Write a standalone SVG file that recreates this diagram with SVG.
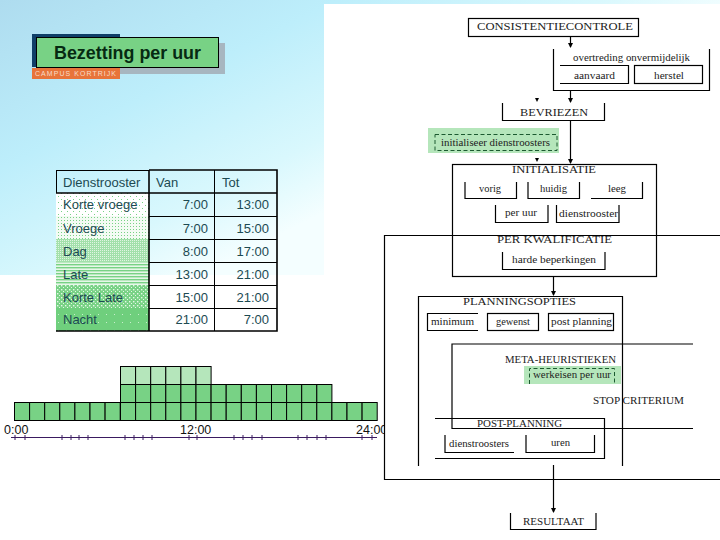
<svg xmlns="http://www.w3.org/2000/svg" width="720" height="540" viewBox="0 0 720 540">
<style>
.t{font-family:"Liberation Sans",Arial,sans-serif;font-size:13px;fill:#1c4a52}
.r{text-anchor:end}
.g{stroke:#000;stroke-width:1;fill:#78d285}
.l{stroke:#000;stroke-width:1;fill:#b5e6bb}
.ln{fill:none;stroke:#000;stroke-width:1.2}
.s{font-family:"Liberation Serif","Times New Roman",serif;font-size:10px;fill:#222}
.h{font-family:"Liberation Serif","Times New Roman",serif;font-size:10.5px;fill:#222}
.tk{stroke:#3a1a60;stroke-width:1}
.ax{font-family:"Liberation Sans",Arial,sans-serif;font-size:12.5px;fill:#111}
.hd{fill:#000}
</style>
<defs>
<linearGradient id="bg" gradientUnits="userSpaceOnUse" x1="0" y1="0" x2="150" y2="300">
<stop offset="0" stop-color="#aedcef"/><stop offset="0.45" stop-color="#bdeefb"/><stop offset="0.8" stop-color="#d9f8fd"/><stop offset="1" stop-color="#f4feff"/>
</linearGradient>
<pattern id="p1" width="6" height="6" patternUnits="userSpaceOnUse"><rect width="6" height="6" fill="#fff"/><rect x="1" y="1" width="1" height="1" fill="#78d285"/><rect x="4" y="4" width="1" height="1" fill="#78d285"/></pattern>
<pattern id="p2" width="3" height="3" patternUnits="userSpaceOnUse"><rect width="3" height="3" fill="#f4fbf4"/><rect x="1" y="1" width="1" height="1" fill="#78d285"/></pattern>
<pattern id="p3" width="2" height="2" patternUnits="userSpaceOnUse"><rect width="2" height="2" fill="#a2e0aa"/><rect x="0" y="0" width="1" height="1" fill="#e0f5e2"/></pattern>
<pattern id="p4" width="3" height="3" patternUnits="userSpaceOnUse"><rect width="3" height="3" fill="#e6f7e8"/><rect width="3" height="1.4" fill="#78d285"/></pattern>
<pattern id="p5" width="4" height="4" patternUnits="userSpaceOnUse"><rect width="4" height="4" fill="#78d285"/><rect x="1" y="1" width="1.4" height="1.4" fill="#e6f7e8"/><rect x="3" y="3" width="1" height="1" fill="#e6f7e8"/></pattern>
<pattern id="p6" width="8" height="8" patternUnits="userSpaceOnUse"><rect width="8" height="8" fill="#6fcf7d"/><rect x="2" y="2" width="1" height="1" fill="#c8eecc"/></pattern>
<marker id="ar" markerWidth="6" markerHeight="6" refX="4" refY="2.5" orient="auto" markerUnits="userSpaceOnUse"><path d="M0 0L5 2.5L0 5z" fill="#000"/></marker>
<clipPath id="cp"><rect x="0" y="420" width="384" height="30"/></clipPath>
</defs>

<rect width="720" height="540" fill="#fff"/>
<rect width="720" height="275" fill="url(#bg)"/>
<rect x="324" y="4" width="396" height="536" fill="#fff"/>

<g id="title">
<rect x="41" y="43" width="184" height="31" fill="#a7b6c0"/>
<g id="logo">
<rect x="32" y="34" width="88" height="33" fill="#0f3f68"/>
<rect x="32" y="68" width="88" height="11" fill="#e8743a"/>
<text x="35" y="76" font-family="Liberation Sans, sans-serif" font-size="7" textLength="81" fill="#f6dcc8">CAMPUS KORTRIJK</text>
</g>
<rect x="36.500" y="37.500" width="182" height="30" fill="#78d285" stroke="#000" stroke-width="1"/>
<text x="54" y="59" textLength="147" lengthAdjust="spacingAndGlyphs" font-family="Liberation Sans, sans-serif" font-size="17.500" font-weight="bold" fill="#062a12">Bezetting per uur</text>
</g>

<g id="table">
<rect x="56" y="193" width="93" height="23" fill="url(#p1)"/>
<rect x="56" y="216" width="93" height="23" fill="url(#p2)"/>
<rect x="56" y="239" width="93" height="23" fill="url(#p3)"/>
<rect x="56" y="262" width="93" height="23" fill="url(#p4)"/>
<rect x="56" y="285" width="93" height="23" fill="url(#p5)"/>
<rect x="56" y="308" width="93" height="23" fill="url(#p6)"/>
<path d="M56 170.500H149M56.500 170V193M214.500 170V331M149 216.500H277M149 239.500H277M149 262.500H277M149 285.500H277M149 308.500H277" fill="none" stroke="#000" stroke-width="1"/>
<path d="M149 170H277V331H56M149 170V331M56 193H277" fill="none" stroke="#000" stroke-width="1.600"/>
<text class="t" x="63" y="187">Dienstrooster</text>
<text class="t" x="156" y="187">Van</text>
<text class="t" x="222" y="187">Tot</text>
<text class="t" x="63" y="209">Korte vroege</text>
<text class="t" x="63" y="233">Vroege</text>
<text class="t" x="63" y="256">Dag</text>
<text class="t" x="63" y="279">Late</text>
<text class="t" x="63" y="302">Korte Late</text>
<text class="t" x="63" y="324">Nacht</text>
<text class="t r" x="208" y="209">7:00</text><text class="t r" x="269" y="209">13:00</text>
<text class="t r" x="208" y="233">7:00</text><text class="t r" x="269" y="233">15:00</text>
<text class="t r" x="208" y="256">8:00</text><text class="t r" x="269" y="256">17:00</text>
<text class="t r" x="208" y="279">13:00</text><text class="t r" x="269" y="279">21:00</text>
<text class="t r" x="208" y="302">15:00</text><text class="t r" x="269" y="302">21:00</text>
<text class="t r" x="208" y="324">21:00</text><text class="t r" x="269" y="324">7:00</text>
</g>

<g id="bars">
<rect class="l" x="120.500" y="366.500" width="15.100" height="18"/><rect class="l" x="135.600" y="366.500" width="15.100" height="18"/><rect class="l" x="150.700" y="366.500" width="15.100" height="18"/><rect class="l" x="165.800" y="366.500" width="15.100" height="18"/><rect class="l" x="180.900" y="366.500" width="15.100" height="18"/><rect class="l" x="196" y="366.500" width="15.100" height="18"/>
<rect class="g" x="120.500" y="384.500" width="15.100" height="18"/><rect class="g" x="135.600" y="384.500" width="15.100" height="18"/><rect class="g" x="150.700" y="384.500" width="15.100" height="18"/><rect class="g" x="165.800" y="384.500" width="15.100" height="18"/><rect class="g" x="180.900" y="384.500" width="15.100" height="18"/><rect class="g" x="196" y="384.500" width="15.100" height="18"/><rect class="g" x="211.100" y="384.500" width="15.100" height="18"/><rect class="g" x="226.200" y="384.500" width="15.100" height="18"/><rect class="g" x="241.300" y="384.500" width="15.100" height="18"/><rect class="g" x="256.400" y="384.500" width="15.100" height="18"/><rect class="g" x="271.500" y="384.500" width="15.100" height="18"/><rect class="g" x="286.600" y="384.500" width="15.100" height="18"/><rect class="g" x="301.700" y="384.500" width="15.100" height="18"/><rect class="g" x="316.800" y="384.500" width="15.100" height="18"/>
<rect class="g" x="14.500" y="402.500" width="15.100" height="18"/><rect class="g" x="29.600" y="402.500" width="15.100" height="18"/><rect class="g" x="44.700" y="402.500" width="15.100" height="18"/><rect class="g" x="59.800" y="402.500" width="15.100" height="18"/><rect class="g" x="74.900" y="402.500" width="15.100" height="18"/><rect class="g" x="90" y="402.500" width="15.100" height="18"/><rect class="g" x="105.100" y="402.500" width="15.100" height="18"/><rect class="g" x="120.500" y="402.500" width="15.100" height="18"/><rect class="g" x="135.600" y="402.500" width="15.100" height="18"/><rect class="g" x="150.700" y="402.500" width="15.100" height="18"/><rect class="g" x="165.800" y="402.500" width="15.100" height="18"/><rect class="g" x="180.900" y="402.500" width="15.100" height="18"/><rect class="g" x="196" y="402.500" width="15.100" height="18"/><rect class="g" x="211.100" y="402.500" width="15.100" height="18"/><rect class="g" x="226.200" y="402.500" width="15.100" height="18"/><rect class="g" x="241.300" y="402.500" width="15.100" height="18"/><rect class="g" x="256.400" y="402.500" width="15.100" height="18"/><rect class="g" x="271.500" y="402.500" width="15.100" height="18"/><rect class="g" x="286.600" y="402.500" width="15.100" height="18"/><rect class="g" x="301.700" y="402.500" width="15.100" height="18"/><rect class="g" x="316.800" y="402.500" width="15.100" height="18"/><rect class="g" x="331.900" y="402.500" width="15.100" height="18"/><rect class="g" x="347" y="402.500" width="15.100" height="18"/><rect class="g" x="362.100" y="402.500" width="15.100" height="18"/>
</g>

<g id="axis">
<text class="ax" x="4" y="434">0:00</text>
<text class="ax" x="180" y="434">12:00</text>
<text class="ax" x="356" y="434" clip-path="url(#cp)">24:00</text>
<path class="tk" d="M11 437.500H377M15 435V440M25 435V440M62 435V440M71 435V440M79 435V440M88 435V440M125 435V440M134 435V440M143 435V440M152 435V440M189 435V440M197 435V440M234 435V440M243 435V440M252 435V440M262 435V440M298 435V440M307 435V440M317 435V440M326 435V440M362 435V440M372 435V440"/>
</g>

<g id="connectors">
<path class="ln" d="M570.500 36V47" marker-end="url(#ar)"/>
<path class="ln" d="M570.500 90V102" marker-end="url(#ar)"/>
<path class="ln" d="M570.500 120V163" marker-end="url(#ar)"/>
<path class="ln" d="M553.500 276V295" marker-end="url(#ar)"/>
<path class="ln" d="M553.500 465V512" marker-end="url(#ar)"/>
<path class="hd" d="M535 98H539L537 102zM535 128H539L537 132zM535 158H539L537 162z"/>
</g>

<g id="frame"><path class="ln" d="M720 235.500H384.500V479.500H720"/></g>

<g id="n-consistentie"><rect class="ln" x="468.500" y="18.500" width="170" height="18"/><text class="h" x="477" y="30" textLength="156" lengthAdjust="spacingAndGlyphs">CONSISTENTIECONTROLE</text></g>
<g id="n-overtreding"><path class="ln" d="M553.500 49V90.500H709.500V49"/><text class="s" x="573" y="61" textLength="117" lengthAdjust="spacingAndGlyphs">overtreding onvermijdelijk</text></g>
<g id="n-aanvaard"><path class="ln" d="M560 65.500H628.500V83.500H560"/><text class="s" x="574" y="79" textLength="41" lengthAdjust="spacingAndGlyphs">aanvaard</text></g>
<g id="n-herstel"><rect class="ln" x="634.500" y="65.500" width="68" height="18"/><text class="s" x="654" y="79" textLength="30" lengthAdjust="spacingAndGlyphs">herstel</text></g>
<g id="n-bevriezen"><path class="ln" d="M502.500 103V120.500H604.500V103"/><text class="h" x="520" y="116" textLength="68" lengthAdjust="spacingAndGlyphs">BEVRIEZEN</text></g>
<g id="n-initialiseer"><rect x="428" y="128" width="131" height="25" fill="#b5e6bb"/><rect x="435" y="134.500" width="122" height="16" fill="none" stroke="#1c5a30" stroke-width="1" stroke-dasharray="4 2.500"/><text class="s" x="441" y="146" textLength="109" lengthAdjust="spacingAndGlyphs">initialiseer dienstroosters</text></g>
<g id="n-initialisatie"><rect class="ln" x="452.500" y="164.500" width="204" height="112"/><text class="h" x="512" y="173" textLength="84" lengthAdjust="spacingAndGlyphs">INITIALISATIE</text></g>
<g id="n-vorig"><path class="ln" d="M465 182V198.500H516.500V182"/><text class="s" x="479" y="192" textLength="22" lengthAdjust="spacingAndGlyphs">vorig</text></g>
<g id="n-huidig"><path class="ln" d="M528 182V198.500H579.500V182"/><text class="s" x="540" y="192" textLength="27" lengthAdjust="spacingAndGlyphs">huidig</text></g>
<g id="n-leeg"><path class="ln" d="M591 198.500H642.500V182"/><text class="s" x="608" y="192" textLength="18" lengthAdjust="spacingAndGlyphs">leeg</text></g>
<g id="n-peruur"><path class="ln" d="M495.500 205V222.500H548V205"/><text class="s" x="505" y="216" textLength="32" lengthAdjust="spacingAndGlyphs">per uur</text></g>
<g id="n-dienstrooster"><path class="ln" d="M556.500 205V222.500H619V205"/><text class="s" x="559" y="217" textLength="59" lengthAdjust="spacingAndGlyphs">dienstrooster</text></g>
<g id="n-kwalificatie"><text class="h" x="497" y="243" textLength="115" lengthAdjust="spacingAndGlyphs">PER KWALIFICATIE</text></g>
<g id="n-harde"><path class="ln" d="M502.500 252V269.500H605V252"/><text class="s" x="512" y="263" textLength="84" lengthAdjust="spacingAndGlyphs">harde beperkingen</text></g>
<g id="n-planning"><path class="ln" d="M418.500 466V296.500H622.500V466"/><text class="h" x="463" y="305" textLength="113" lengthAdjust="spacingAndGlyphs">PLANNINGSOPTIES</text></g>
<g id="n-minimum"><path class="ln" d="M478 313.500H427.500V330.500H478"/><text class="s" x="431" y="325" textLength="43" lengthAdjust="spacingAndGlyphs">minimum</text></g>
<g id="n-gewenst"><rect class="ln" x="487.500" y="313.500" width="51" height="17"/><text class="s" x="496" y="325" textLength="34" lengthAdjust="spacingAndGlyphs">gewenst</text></g>
<g id="n-post"><rect class="ln" x="548.500" y="313.500" width="65" height="17"/><text class="s" x="551" y="325" textLength="61" lengthAdjust="spacingAndGlyphs">post planning</text></g>
<g id="n-meta"><path class="ln" d="M693 344H452V428.500H693"/><text class="h" x="505" y="363" textLength="111" lengthAdjust="spacingAndGlyphs">META-HEURISTIEKEN</text></g>
<g id="n-werkeisen"><rect x="524" y="366" width="97" height="18" fill="#b5e6bb"/><path d="M529.500 384V368.500H614.500V384" fill="none" stroke="#1c5a30" stroke-width="1" stroke-dasharray="4 2.500"/><text class="s" x="533" y="378" textLength="78" lengthAdjust="spacingAndGlyphs">werkeisen per uur</text></g>
<g id="n-stop"><text class="h" x="593" y="404" textLength="91" lengthAdjust="spacingAndGlyphs">STOP CRITERIUM</text></g>
<g id="n-postplanning"><path class="ln" d="M435 418.500H604.500V458.500H435"/><text class="h" x="477" y="427" textLength="85" lengthAdjust="spacingAndGlyphs">POST-PLANNING</text></g>
<g id="n-dienstroosters"><path class="ln" d="M445 435V452.500H514"/><text class="s" x="449" y="447" textLength="60" lengthAdjust="spacingAndGlyphs">dienstroosters</text></g>
<g id="n-uren"><path class="ln" d="M526 435V452.500H594.500V435"/><text class="s" x="551" y="446" textLength="19" lengthAdjust="spacingAndGlyphs">uren</text></g>
<g id="n-resultaat"><path class="ln" d="M510.500 513V529.500H596V513"/><text class="h" x="523" y="525" textLength="61" lengthAdjust="spacingAndGlyphs">RESULTAAT</text></g>
</svg>
